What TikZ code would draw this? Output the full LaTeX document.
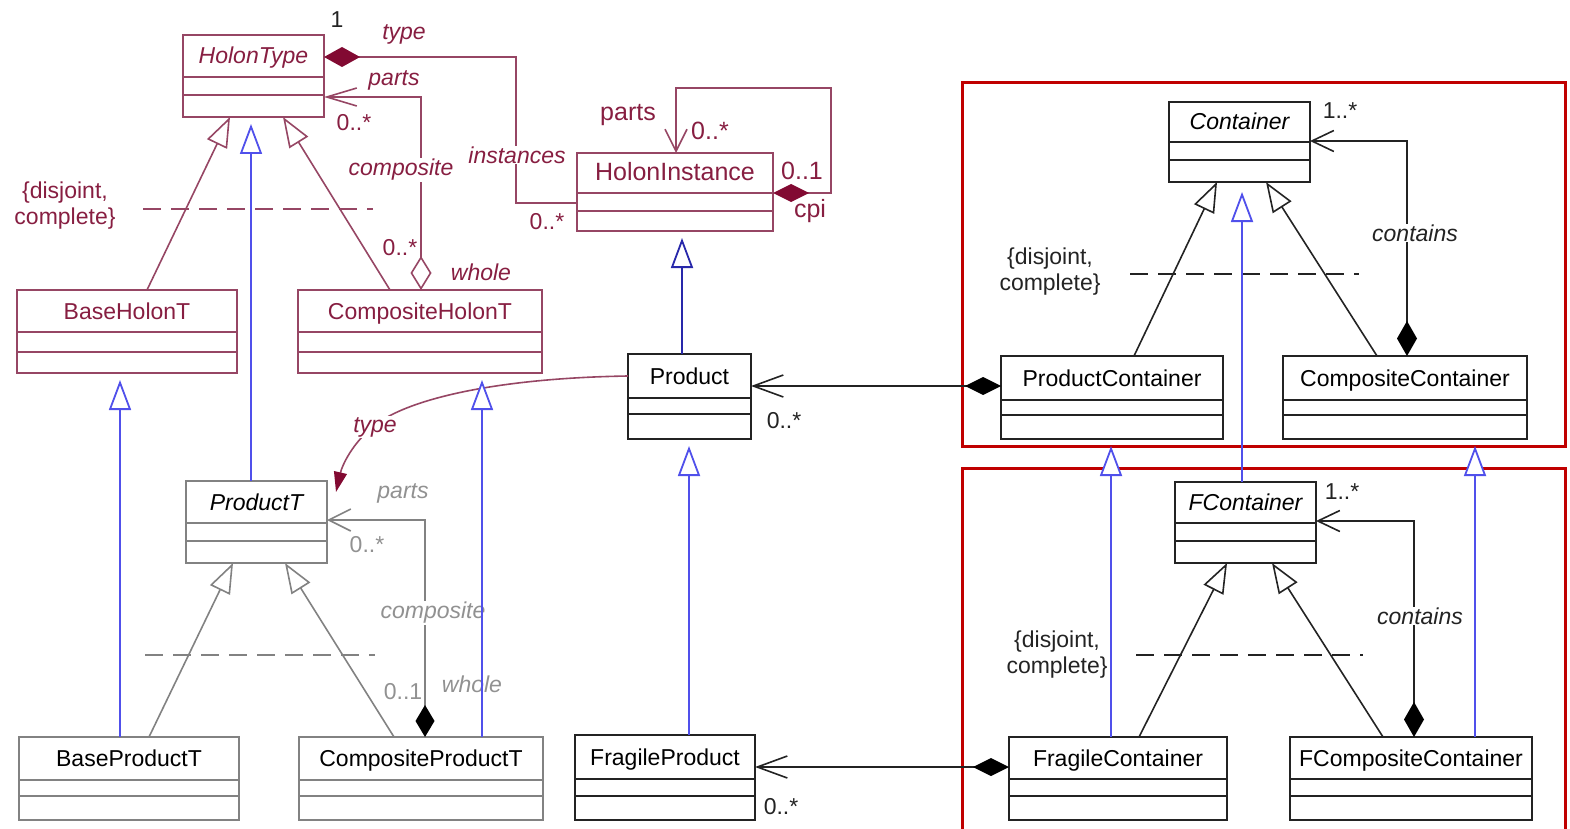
\documentclass[tikz,border=0pt]{standalone}
\usepackage{fontspec}
\setmainfont{Liberation Sans}
\usetikzlibrary{arrows.meta}

\definecolor{mtext}{RGB}{135,30,65}
\definecolor{mline}{RGB}{150,70,100}
\definecolor{mfill}{RGB}{130,10,50}
\definecolor{lblue}{RGB}{80,80,235}
\definecolor{dblue}{RGB}{40,40,170}
\definecolor{gline}{RGB}{130,130,130}
\definecolor{gtext}{RGB}{145,145,145}
\definecolor{kline}{RGB}{35,35,35}
\definecolor{redframe}{RGB}{192,0,0}

% UML class: [style]{name}{left}{top}{right}{bottom}{divider 1}{divider 2}{class name}
\newcommand\classbox[9][]{%
  \pgfmathsetmacro\cbw{#5-#3}%
  \pgfmathsetmacro\cbbase{(#4+#7)/2+8}%
  \pgfmathsetmacro\cbth{\cbbase-#4}%
  \pgfmathsetmacro\cbtd{#6-\cbbase}%
  \pgfmathsetmacro\cbda{#7-#4}%
  \pgfmathsetmacro\cbdb{#8-#4}%
  \node[classbox,#1,anchor=north west,minimum width=\cbw pt,
        text height=\cbth pt,text depth=\cbtd pt] (#2) at (#3,#4) {#9};
  \draw[#1,line width=1.5pt]
    ([yshift=-\cbda pt]#2.north west) -- ([yshift=-\cbda pt]#2.north east)
    ([yshift=-\cbdb pt]#2.north west) -- ([yshift=-\cbdb pt]#2.north east);
}

\begin{document}
\begin{tikzpicture}[x=1pt,y=-1pt,
  classbox/.style={draw,rectangle,inner sep=0pt,outer sep=0pt,line width=2pt,
    fill=white,font=\fontsize{23}{26}\selectfont},
  abstract/.style={font=\fontsize{23}{26}\selectfont\itshape},
  hbox/.style={draw=mline,text=mtext},
  gbox/.style={draw=gline,text=black},
  kbox/.style={draw=kline,text=black,line width=2.2pt},
  lbl/.style={font=\fontsize{23}{26}\selectfont,inner sep=1pt},
  ilbl/.style={font=\fontsize{23}{26}\selectfont\itshape,inner sep=1pt},
  ml/.style={draw=mline,line width=1.6pt},
  gl/.style={draw=gline,line width=1.6pt},
  kl/.style={draw=kline,line width=1.6pt},
  bl/.style={draw=lblue,line width=1.8pt,shorten >=7pt},
  gen/.style={-{Triangle[length=30pt,width=22pt,fill=white]}},
  sepline/.style={line width=1.6pt,dash pattern=on 18pt off 10pt},
]
\useasboundingbox (0,0) rectangle (1570,829);

% package frames
\draw[redframe,line width=3pt] (962,83) rectangle (1565,446);
\draw[redframe,line width=3pt] (962,468) rectangle (1565,845);

% classes
\classbox[hbox,abstract]{HT}{183}{35}{324}{117}{77}{95}{HolonType}
\classbox[hbox,font=\fontsize{25}{27}\selectfont]{HI}{577}{153}{773}{231}{193}{211}{HolonInstance}
\classbox[hbox]{BH}{17}{290}{237}{373}{332}{352}{BaseHolonT}
\classbox[hbox]{CH}{298}{290}{542}{373}{332}{352}{CompositeHolonT}
\classbox[kbox]{P}{628}{354}{751}{439}{398}{414}{Product}
\classbox[gbox,abstract]{PT}{186}{481}{327}{563}{523}{541}{ProductT}
\classbox[gbox]{BPT}{19}{737}{239}{820}{780}{796}{BaseProductT}
\classbox[gbox]{CPT}{299}{737}{543}{820}{780}{796}{CompositeProductT}
\classbox[kbox]{FP}{575}{735}{755}{820}{779}{796}{FragileProduct}
\classbox[kbox]{FC}{1009}{737}{1227}{820}{779}{796}{FragileContainer}
\classbox[kbox]{FCC}{1290}{737}{1532}{820}{779}{796}{FCompositeContainer}
\classbox[kbox,abstract]{FCo}{1175}{482}{1316}{563}{523}{541}{FContainer}
\classbox[kbox,abstract]{Co}{1169}{102}{1310}{182}{142}{160}{Container}
\classbox[kbox]{PC}{1001}{356}{1223}{439}{400}{415}{ProductContainer}
\classbox[kbox]{CC}{1283}{356}{1527}{439}{400}{415}{CompositeContainer}

% ---- holon types ----
\draw[ml,{Diamond[length=36pt,width=20pt,fill=mfill,color=mfill]}-]
  ([yshift=-22pt]HT.north east) -- ++(192,0) |- ([yshift=-50pt]HI.north west);
\draw[ml,{Straight Barb[length=30pt,width=18pt]}-{Diamond[length=34pt,width=21pt,fill=white]}]
  ([yshift=-62pt]HT.north east) -| ([xshift=123pt]CH.north west);
\draw[ml,gen] ([xshift=130pt]BH.north west) -- ([xshift=47pt]HT.south west);
\draw[ml,gen] ([xshift=92pt]CH.north west) -- ([xshift=100pt]HT.south west);
\draw[ml,sepline] (143,209) -- (373,209);
\node[lbl,text=mtext,align=center] (djA) at (65,206) {\{disjoint,\\complete\}};
\node[lbl,text=kline] (mT1) at (337,20) {1};
\node[ilbl,text=mtext] (lType) at (404,34) {type};
\node[ilbl,text=mtext,fill=white] (lInst) at (517,155) {instances};
\node[lbl,text=mtext] (mInst) at (547,222) {0..*};
\node[ilbl,text=mtext] (lParts) at (394,80) {parts};
\node[lbl,text=mtext] (mParts) at (354,123) {0..*};
\node[ilbl,text=mtext,fill=white] (lComp) at (401,170) {composite};
\node[lbl,text=mtext] (mWhole) at (400,248) {0..*};
\node[ilbl,text=mtext] (lWhole) at (481,272) {whole};

% ---- holon instances ----
\draw[ml,{Straight Barb[length=22pt,width=22pt]}-{Diamond[length=36pt,width=18pt,fill=mfill,color=mfill]}]
  ([xshift=99pt]HI.north west) |- (831,88) |- ([yshift=-40pt]HI.north east);
\node[lbl,text=mtext,font=\fontsize{25}{27}\selectfont] (lIParts) at (628,115) {parts};
\node[lbl,text=mtext,font=\fontsize{25}{27}\selectfont] (mIParts) at (710,131) {0..*};
\node[lbl,text=mtext,font=\fontsize{25}{27}\selectfont] (mCpi) at (802,171) {0..1};
\node[lbl,text=mtext,font=\fontsize{25}{27}\selectfont] (lCpi) at (810,211) {cpi};

% product typed by a product type
\draw[ml,-{Triangle[length=20pt,width=13pt,fill=mfill,color=mfill]}]
  ([yshift=-22pt]P.north west) .. controls (500,378) and (410,398) .. (375,425)
  .. controls (352,443) and (342,466) .. ([xshift=9pt,yshift=-11pt]PT.north east);
\node[ilbl,text=mtext,fill=white] (lPType) at (375,427) {type};

% ---- product types ----
\draw[gl,gen] ([xshift=130pt]BPT.north west) -- ([xshift=47pt]PT.south west);
\draw[gl,gen] ([xshift=95pt]CPT.north west) -- ([xshift=99pt]PT.south west);
\draw[gl,sepline] (145,655) -- (375,655);
\draw[gl,{Straight Barb[length=22pt,width=22pt]}-{Diamond[length=32pt,width=19pt,fill=black,color=black]}]
  ([yshift=-39pt]PT.north east) -| ([xshift=126pt]CPT.north west);
\node[ilbl,text=gtext] (lPTParts) at (403,493) {parts};
\node[lbl,text=gtext] (mPTParts) at (367,545) {0..*};
\node[ilbl,text=gtext,fill=white] (lPTComp) at (433,613) {composite};
\node[lbl,text=gtext] (mPTWhole) at (403,692) {0..1};
\node[ilbl,text=gtext] (lPTWhole) at (472,684) {whole};

% ---- products and containers ----
\draw[kl,{Straight Barb[length=30pt,width=22pt]}-{Diamond[length=36pt,width=18pt,fill=black,color=black]}]
  ([yshift=-32pt]P.north east) -- ([yshift=-30pt]PC.north west);
\node[lbl,text=kline] (mProd) at (784,421) {0..*};
\draw[kl,{Straight Barb[length=30pt,width=22pt]}-{Diamond[length=36pt,width=18pt,fill=black,color=black]}]
  ([yshift=-32pt]FP.north east) -- ([yshift=-30pt]FC.north west);
\node[lbl,text=kline] (mFProd) at (781,807) {0..*};

\draw[kl,gen] ([xshift=133pt]PC.north west) -- ([xshift=48pt]Co.south west);
\draw[kl,gen] ([xshift=94pt]CC.north west) -- ([xshift=97pt]Co.south west);
\draw[kl,sepline] (1130,274) -- (1359,274);
\node[lbl,text=kline,align=center] (djC) at (1050,272) {\{disjoint,\\complete\}};
\draw[kl,{Straight Barb[length=22pt,width=21pt]}-{Diamond[length=35pt,width=20pt,fill=black,color=black]}]
  ([yshift=-39pt]Co.north east) -| ([xshift=124pt]CC.north west);
\node[lbl,text=kline] (mCo) at (1340,111) {1..*};
\node[ilbl,text=kline,fill=white] (lCo) at (1415,233) {contains};

\draw[kl,gen] ([xshift=130pt]FC.north west) -- ([xshift=52pt]FCo.south west);
\draw[kl,gen] ([xshift=93pt]FCC.north west) -- ([xshift=97pt]FCo.south west);
\draw[kl,sepline] (1136,655) -- (1363,655);
\node[lbl,text=kline,align=center] (djF) at (1057,655) {\{disjoint,\\complete\}};
\draw[kl,{Straight Barb[length=22pt,width=21pt]}-{Diamond[length=35pt,width=20pt,fill=black,color=black]}]
  ([yshift=-39pt]FCo.north east) -| ([xshift=124pt]FCC.north west);
\node[lbl,text=kline] (mFCo) at (1342,492) {1..*};
\node[ilbl,text=kline,fill=white] (lFCo) at (1420,616) {contains};

% ---- specialisations across the hierarchies ----
\draw[bl,gen] ([xshift=65pt]PT.north west) -- ([xshift=68pt]HT.south west);
\draw[bl,gen] ([xshift=101pt]BPT.north west) -- ([xshift=103pt]BH.south west);
\draw[bl,gen] ([xshift=183pt]CPT.north west) -- ([xshift=184pt]CH.south west);
\draw[bl,gen,draw=dblue] ([xshift=54pt]P.north west) -- ([xshift=105pt]HI.south west);
\draw[bl,gen] ([xshift=114pt]FP.north west) -- ([xshift=61pt]P.south west);
\draw[bl,gen] ([xshift=102pt]FC.north west) -- ([xshift=110pt]PC.south west);
\draw[bl,gen] ([xshift=185pt]FCC.north west) -- ([xshift=192pt]CC.south west);
\draw[bl,gen,shorten >=10pt] ([xshift=67pt]FCo.north west) -- ([xshift=73pt]Co.south west);
\end{tikzpicture}
\end{document}
